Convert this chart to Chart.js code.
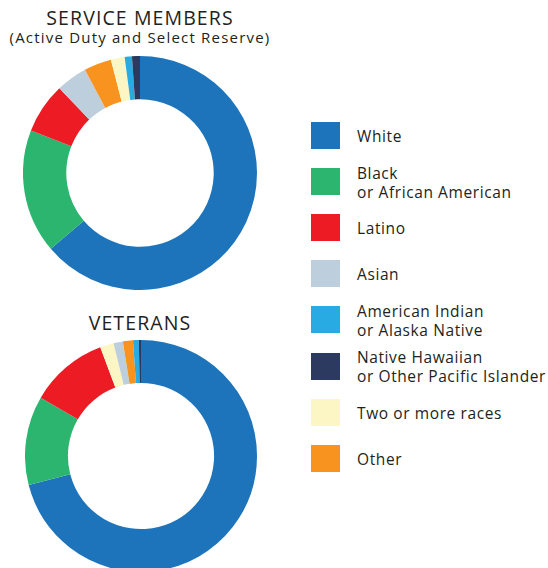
<!DOCTYPE html>
<html lang="en">
<head>
    <meta charset="UTF-8">
    <title>Service Members and Veterans by Race</title>
    <script src="https://cdn.jsdelivr.net/npm/chart.js"></script>
    <style>
        body {
            margin: 0;
            width: 548px;
            height: 568px;
            overflow: hidden;
            background: #fff;
            font-family: 'Open Sans', sans-serif;
            color: #231f20;
            position: relative;
        }
        .title {
            position: absolute;
            left: 0;
            width: 280px;
            text-align: center;
            white-space: nowrap;
        }
        .big {
            font-size: 19.5px;
            letter-spacing: 1.1px;
        }
        .box {
            position: absolute;
        }
        #legend {
            position: absolute;
            left: 311px;
            top: 112.5px;
        }
        .item {
            display: flex;
            align-items: center;
            height: 46.1px;
        }
        .swatch {
            width: 29px;
            height: 27px;
            margin-right: 17px;
            flex: none;
        }
        .label {
            font-size: 15.5px;
            letter-spacing: 0.6px;
            line-height: 19px;
            white-space: nowrap;
            padding-top: 2px;
        }
    </style>
</head>
<body>
    <div class="title big" style="top:4px;">SERVICE MEMBERS</div>
    <div class="title" style="top:27px;font-size:15px;letter-spacing:1.2px;">(Active Duty and Select Reserve)</div>
    <div class="box" style="left:23px;top:56px;width:234px;height:234px;">
        <canvas id="serviceChart"></canvas>
    </div>

    <div class="title big" style="top:309px;">VETERANS</div>
    <div class="box" style="left:25px;top:340px;width:232px;height:232px;">
        <canvas id="veteranChart"></canvas>
    </div>

    <div id="legend"></div>

    <script>
        // categories in legend order
        var categories = [
            ['White'],
            ['Black', 'or African American'],
            ['Latino'],
            ['Asian'],
            ['American Indian', 'or Alaska Native'],
            ['Native Hawaiian', 'or Other Pacific Islander'],
            ['Two or more races'],
            ['Other']
        ];
        var colors = ['#1e74bb', '#2cb56f', '#ed1c24', '#bdcfdd', '#28abe2', '#2c3a5f', '#fbf6c4', '#f7931e'];

        // percentages, same order as categories
        var serviceValues = [63.8, 17.1, 7.0, 4.3, 1.0, 1.1, 1.9, 3.8];
        var veteranValues = [70.9, 12.4, 10.9, 1.3, 0.8, 0.3, 1.9, 1.4];

        // clockwise order of slices starting at 12 o'clock
        var serviceOrder = [0, 1, 2, 3, 7, 6, 4, 5];
        var veteranOrder = [0, 1, 2, 6, 3, 7, 4, 5];

        function makeDonut(id, values, order) {
            new Chart(document.getElementById(id), {
                type: 'doughnut',
                data: {
                    labels: order.map(i => categories[i].join(' ')),
                    datasets: [{
                        data: order.map(i => values[i]),
                        backgroundColor: order.map(i => colors[i]),
                        borderWidth: 0
                    }]
                },
                options: {
                    responsive: true,
                    maintainAspectRatio: false,
                    animation: false,
                    cutout: '63%',
                    layout: { padding: 0 },
                    plugins: {
                        legend: { display: false },
                        tooltip: { enabled: false }
                    }
                }
            });
        }

        makeDonut('serviceChart', serviceValues, serviceOrder);
        makeDonut('veteranChart', veteranValues, veteranOrder);

        // legend
        var legend = document.getElementById('legend');
        categories.forEach(function (lines, i) {
            var item = document.createElement('div');
            item.className = 'item';
            var sw = document.createElement('div');
            sw.className = 'swatch';
            sw.style.background = colors[i];
            var lab = document.createElement('div');
            lab.className = 'label';
            lab.innerHTML = lines.join('<br>');
            item.appendChild(sw);
            item.appendChild(lab);
            legend.appendChild(item);
        });
    </script>
</body>
</html>
